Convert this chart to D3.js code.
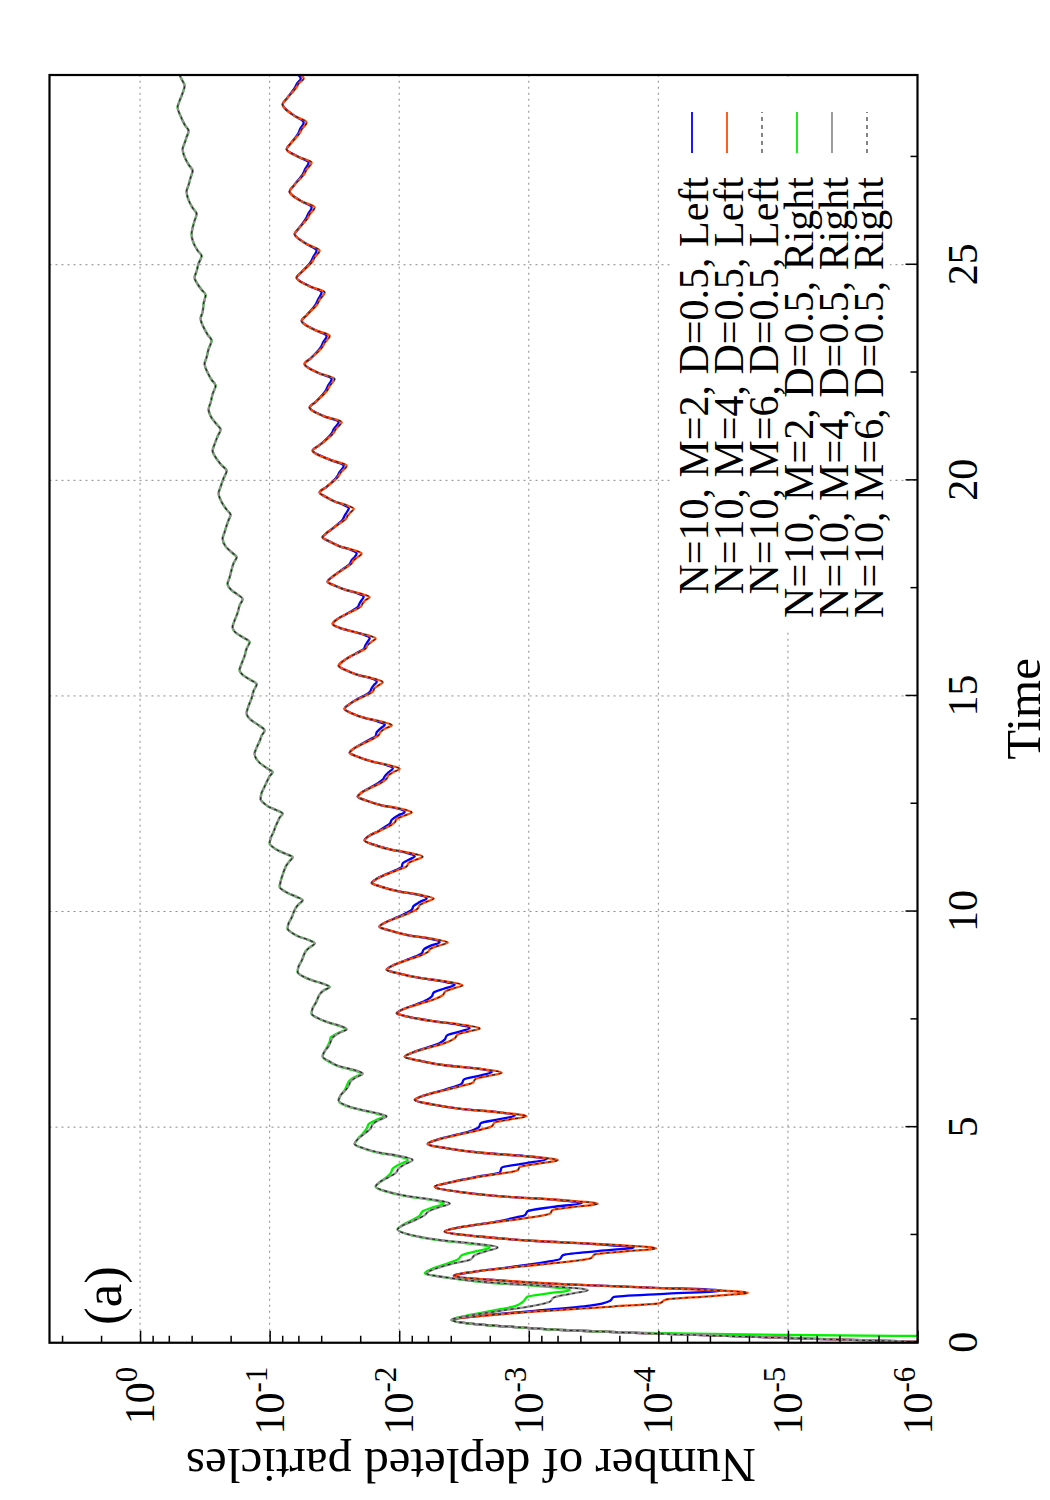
<!DOCTYPE html>
<html>
<head>
<meta charset="utf-8">
<script src="https://cdn.jsdelivr.net/npm/d3@7"></script>
<style>
  body { margin: 0; background: #fff; }
  text { font-family: "Liberation Serif", "Times New Roman", serif; fill: #000; }
</style>
</head>
<body>
<div id="chart"></div>
<script>
//##### depleted particles vs time (figure is drawn landscape, then turned) #####

// [time, number of depleted particles]
var leftM2 = [
  [0.00, 4e-7], [0.03, 1.2e-6], [0.11, 1e-5], [0.21, 1e-4], [0.29, 5e-4], [0.36, 1.2e-3], [0.44, 2.7e-3], [0.53, 3.94e-3],
  [0.62, 2.48e-3], [0.74, 8.99e-4], [0.86, 3.38e-4], [0.97, 2.37e-4], [1.06, 2.21e-4], [1.14, 8.45e-5], [1.21, 3.18e-5], [1.28, 1.16e-4], [1.34, 4.04e-4], [1.45, 1.77e-3], [1.55, 3.79e-3],
  [1.65, 2.61e-3], [1.77, 1.28e-3], [1.87, 7.52e-4], [1.94, 5.76e-4], [2.03, 5.46e-4], [2.12, 3.09e-4], [2.21, 1.55e-4], [2.28, 2.83e-4], [2.36, 8.83e-4], [2.47, 2.52e-3], [2.58, 4.46e-3],
  [2.68, 3.35e-3], [2.80, 1.86e-3], [2.90, 1.28e-3], [2.96, 1.07e-3], [3.05, 1.02e-3], [3.15, 6.53e-4], [3.24, 3.90e-4], [3.31, 5.97e-4], [3.39, 1.53e-3], [3.50, 3.47e-3], [3.62, 5.32e-3],
  [3.73, 3.86e-3], [3.85, 2.48e-3], [3.95, 1.67e-3], [4.06, 1.62e-3], [4.16, 1.07e-3], [4.26, 7.26e-4], [4.33, 1.07e-3], [4.40, 2.23e-3], [4.51, 4.30e-3], [4.61, 6.03e-3],
  [4.71, 5.05e-3], [4.83, 3.53e-3], [4.92, 2.75e-3], [5.00, 2.43e-3], [5.09, 2.35e-3], [5.18, 1.71e-3], [5.27, 1.28e-3], [5.35, 1.75e-3], [5.42, 3.24e-3], [5.53, 5.61e-3], [5.63, 7.59e-3],
  [5.73, 6.47e-3], [5.85, 4.70e-3], [5.94, 3.73e-3], [6.01, 3.29e-3], [6.10, 3.18e-3], [6.19, 2.43e-3], [6.28, 1.93e-3], [6.36, 2.52e-3], [6.43, 4.30e-3], [6.54, 6.95e-3], [6.63, 9.07e-3],
  [6.73, 7.87e-3], [6.85, 6.03e-3], [6.94, 4.95e-3], [7.03, 4.46e-3], [7.12, 4.30e-3], [7.21, 3.47e-3], [7.30, 2.86e-3], [7.38, 3.53e-3], [7.46, 5.51e-3], [7.56, 8.45e-3], [7.64, 1.045e-2],
  [7.74, 9.23e-3], [7.86, 7.20e-3], [7.95, 6.14e-3], [8.03, 5.61e-3], [8.12, 5.42e-3], [8.21, 4.53e-3], [8.30, 3.73e-3], [8.38, 4.62e-3], [8.46, 6.95e-3], [8.57, 1.03e-2], [8.65, 1.25e-2],
  [8.75, 1.12e-2], [8.87, 8.91e-3], [8.96, 7.46e-3], [9.03, 6.70e-3], [9.12, 6.47e-3], [9.21, 5.71e-3], [9.29, 4.87e-3], [9.37, 5.81e-3], [9.45, 8.45e-3], [9.56, 1.18e-2], [9.65, 1.42e-2],
  [9.75, 1.27e-2], [9.87, 1.03e-2], [9.96, 8.91e-3], [10.04, 8.01e-3], [10.13, 7.73e-3], [10.22, 6.95e-3], [10.31, 6.14e-3], [10.39, 7.20e-3], [10.47, 1.01e-2], [10.58, 1.39e-2], [10.66, 1.63e-2],
  [10.76, 1.49e-2], [10.88, 1.23e-2], [10.96, 1.06e-2], [11.03, 9.57e-3], [11.12, 9.40e-3], [11.20, 8.45e-3], [11.28, 7.59e-3], [11.36, 8.75e-3], [11.44, 1.18e-2], [11.55, 1.57e-2], [11.65, 1.85e-2],
  [11.75, 1.72e-2], [11.87, 1.44e-2], [11.96, 1.29e-2], [12.04, 1.18e-2], [12.13, 1.14e-2], [12.22, 1.03e-2], [12.31, 9.07e-3], [12.39, 1.03e-2], [12.47, 1.39e-2], [12.58, 1.82e-2], [12.66, 2.09e-2],
  [12.76, 1.95e-2], [12.88, 1.66e-2], [12.97, 1.47e-2], [13.06, 1.34e-2], [13.14, 1.29e-2], [13.23, 1.21e-2], [13.32, 1.12e-2], [13.40, 1.27e-2], [13.48, 1.63e-2], [13.59, 2.09e-2], [13.68, 2.41e-2],
  [13.78, 2.24e-2], [13.90, 1.91e-2], [13.99, 1.69e-2], [14.07, 1.52e-2], [14.16, 1.49e-2], [14.25, 1.39e-2], [14.33, 1.29e-2], [14.41, 1.47e-2], [14.49, 1.85e-2], [14.60, 2.33e-2], [14.70, 2.64e-2],
  [14.80, 2.45e-2], [14.92, 2.13e-2], [15.01, 1.85e-2], [15.09, 1.69e-2], [15.18, 1.63e-2], [15.25, 1.57e-2], [15.33, 1.49e-2], [15.41, 1.66e-2], [15.49, 2.09e-2], [15.60, 2.59e-2], [15.70, 2.93e-2],
  [15.80, 2.73e-2], [15.92, 2.37e-2], [16.02, 2.06e-2], [16.09, 1.88e-2], [16.18, 1.82e-2], [16.26, 1.75e-2], [16.34, 1.69e-2], [16.42, 1.88e-2], [16.50, 2.33e-2], [16.58, 2.88e-2], [16.67, 3.26e-2],
  [16.77, 3.04e-2], [16.89, 2.59e-2], [16.98, 2.29e-2], [17.06, 2.09e-2], [17.15, 2.02e-2], [17.22, 1.95e-2], [17.30, 1.88e-2], [17.38, 2.09e-2], [17.46, 2.59e-2], [17.56, 3.15e-2], [17.65, 3.57e-2],
  [17.75, 3.32e-2], [17.87, 2.93e-2], [17.97, 2.64e-2], [18.06, 2.41e-2], [18.15, 2.33e-2], [18.22, 2.21e-2], [18.31, 2.13e-2], [18.39, 2.37e-2], [18.47, 2.88e-2], [18.58, 3.44e-2], [18.68, 3.90e-2],
  [18.78, 3.63e-2], [18.90, 3.21e-2], [19.00, 2.93e-2], [19.09, 2.73e-2], [19.18, 2.64e-2], [19.26, 2.54e-2], [19.35, 2.45e-2], [19.43, 2.69e-2], [19.51, 3.15e-2], [19.62, 3.70e-2], [19.72, 4.11e-2],
  [19.85, 3.63e-2], [20.10, 3.0e-2], [20.18, 2.9e-2], [20.34, 2.68e-2], [20.48, 3.44e-2], [20.69, 4.66e-2],
  [20.82, 4.11e-2], [21.10, 3.3e-2], [21.19, 3.2e-2], [21.35, 2.93e-2], [21.49, 3.83e-2], [21.69, 4.91e-2],
  [21.82, 4.41e-2], [22.10, 3.66e-2], [22.19, 3.55e-2], [22.35, 3.32e-2], [22.49, 4.19e-2], [22.70, 5.37e-2],
  [22.83, 4.82e-2], [23.10, 4.0e-2], [23.19, 3.88e-2], [23.35, 3.63e-2], [23.49, 4.49e-2], [23.70, 5.66e-2],
  [23.83, 5.18e-2], [24.10, 4.37e-2], [24.19, 4.24e-2], [24.36, 3.97e-2], [24.50, 4.91e-2], [24.70, 6.19e-2],
  [24.83, 5.66e-2], [25.08, 4.78e-2], [25.17, 4.63e-2], [25.33, 4.34e-2], [25.48, 5.18e-2], [25.71, 6.41e-2],
  [25.84, 5.97e-2], [26.08, 5.22e-2], [26.17, 5.06e-2], [26.33, 4.74e-2], [26.47, 5.66e-2], [26.70, 7.01e-2],
  [26.83, 6.53e-2], [27.12, 5.5e-2], [27.21, 5.34e-2], [27.37, 5.0e-2], [27.50, 5.97e-2], [27.68, 7.39e-2],
  [27.81, 6.89e-2], [28.05, 6.0e-2], [28.14, 5.83e-2], [28.30, 5.46e-2], [28.45, 6.41e-2], [28.72, 7.94e-2],
  [28.85, 7.39e-2], [29.12, 6.35e-2], [29.20, 6.15e-2], [29.32, 5.75e-2], [29.45, 6.3e-2]
];

var leftM4 = [
  [0.00, 4e-7], [0.03, 1.2e-6], [0.11, 1e-5], [0.21, 1e-4], [0.29, 5e-4], [0.36, 1.2e-3], [0.44, 2.7e-3], [0.53, 3.94e-3],
  [0.62, 2.39e-3], [0.74, 7.26e-4], [0.84, 2.24e-4], [0.92, 9.7e-5], [1.00, 8.75e-5], [1.08, 3.86e-5], [1.16, 2.04e-5], [1.25, 6.8e-5], [1.34, 4.04e-4], [1.45, 1.77e-3], [1.55, 3.79e-3],
  [1.65, 2.61e-3], [1.77, 1.13e-3], [1.87, 5.37e-4], [1.96, 3.32e-4], [2.05, 3.09e-4], [2.12, 1.81e-4], [2.19, 1.04e-4], [2.28, 2.50e-4], [2.36, 8.83e-4], [2.47, 2.52e-3], [2.58, 4.46e-3],
  [2.68, 3.35e-3], [2.80, 1.75e-3], [2.90, 1.00e-3], [2.99, 6.89e-4], [3.08, 6.53e-4], [3.15, 4.50e-4], [3.22, 2.93e-4], [3.31, 5.66e-4], [3.39, 1.53e-3], [3.50, 3.47e-3], [3.62, 5.32e-3],
  [3.73, 3.86e-3], [3.85, 2.39e-3], [4.00, 1.22e-3], [4.08, 1.17e-3], [4.16, 8.22e-4], [4.235, 5.97e-4], [4.32, 1.02e-3], [4.40, 2.23e-3], [4.51, 4.30e-3], [4.61, 6.03e-3],
  [4.71, 5.05e-3], [4.83, 3.41e-3], [4.93, 2.43e-3], [5.02, 1.93e-3], [5.11, 1.83e-3], [5.18, 1.40e-3], [5.25, 1.04e-3], [5.34, 1.64e-3], [5.42, 3.24e-3], [5.53, 5.61e-3], [5.63, 7.59e-3],
  [5.73, 6.47e-3], [5.85, 4.53e-3], [5.95, 3.35e-3], [6.03, 2.71e-3], [6.12, 2.57e-3], [6.19, 2.04e-3], [6.26, 1.62e-3], [6.35, 2.39e-3], [6.43, 4.30e-3], [6.54, 6.95e-3], [6.63, 9.07e-3],
  [6.73, 7.87e-3], [6.85, 5.81e-3], [6.95, 4.46e-3], [7.06, 3.73e-3], [7.15, 3.53e-3], [7.22, 2.90e-3], [7.29, 2.39e-3], [7.38, 3.35e-3], [7.46, 5.51e-3], [7.56, 8.45e-3], [7.64, 1.045e-2],
  [7.74, 9.23e-3], [7.86, 6.95e-3], [7.96, 5.42e-3], [8.06, 4.62e-3], [8.15, 4.38e-3], [8.22, 3.79e-3], [8.29, 3.24e-3], [8.38, 4.38e-3], [8.46, 6.95e-3], [8.57, 1.03e-2], [8.65, 1.25e-2],
  [8.75, 1.12e-2], [8.87, 8.75e-3], [8.97, 6.95e-3], [9.06, 6.03e-3], [9.14, 5.71e-3], [9.21, 4.95e-3], [9.28, 4.22e-3], [9.37, 5.61e-3], [9.45, 8.45e-3], [9.56, 1.18e-2], [9.65, 1.42e-2],
  [9.75, 1.27e-2], [9.87, 1.01e-2], [9.97, 8.30e-3], [10.07, 7.20e-3], [10.15, 6.95e-3], [10.23, 6.14e-3], [10.30, 5.42e-3], [10.39, 6.95e-3], [10.47, 1.01e-2], [10.58, 1.39e-2], [10.66, 1.63e-2],
  [10.76, 1.49e-2], [10.88, 1.21e-2], [10.98, 9.91e-3], [11.05, 8.75e-3], [11.13, 8.45e-3], [11.20, 7.46e-3], [11.27, 6.59e-3], [11.36, 8.30e-3], [11.44, 1.18e-2], [11.55, 1.57e-2], [11.65, 1.85e-2],
  [11.75, 1.72e-2], [11.87, 1.42e-2], [11.97, 1.21e-2], [12.07, 1.08e-2], [12.15, 1.045e-2], [12.22, 9.23e-3], [12.30, 8.01e-3], [12.39, 9.91e-3], [12.47, 1.39e-2], [12.58, 1.82e-2], [12.66, 2.09e-2],
  [12.76, 1.95e-2], [12.88, 1.63e-2], [12.98, 1.39e-2], [13.08, 1.25e-2], [13.16, 1.21e-2], [13.24, 1.10e-2], [13.31, 9.91e-3], [13.40, 1.23e-2], [13.48, 1.63e-2], [13.59, 2.09e-2], [13.68, 2.41e-2],
  [13.78, 2.24e-2], [13.90, 1.88e-2], [14.00, 1.60e-2], [14.09, 1.44e-2], [14.17, 1.39e-2], [14.25, 1.27e-2], [14.32, 1.14e-2], [14.41, 1.39e-2], [14.49, 1.85e-2], [14.60, 2.33e-2], [14.70, 2.64e-2],
  [14.80, 2.45e-2], [14.92, 2.09e-2], [15.02, 1.78e-2], [15.10, 1.60e-2], [15.18, 1.55e-2], [15.25, 1.44e-2], [15.32, 1.34e-2], [15.41, 1.60e-2], [15.49, 2.09e-2], [15.60, 2.59e-2], [15.70, 2.93e-2],
  [15.80, 2.73e-2], [15.92, 2.37e-2], [16.02, 2.02e-2], [16.10, 1.82e-2], [16.18, 1.75e-2], [16.26, 1.63e-2], [16.33, 1.52e-2], [16.42, 1.82e-2], [16.50, 2.33e-2], [16.58, 2.88e-2], [16.67, 3.26e-2],
  [16.77, 3.04e-2], [16.89, 2.59e-2], [16.98, 2.24e-2], [17.07, 1.98e-2], [17.15, 1.91e-2], [17.22, 1.82e-2], [17.29, 1.69e-2], [17.38, 2.02e-2], [17.46, 2.59e-2], [17.56, 3.15e-2], [17.65, 3.57e-2],
  [17.75, 3.32e-2], [17.87, 2.93e-2], [17.97, 2.59e-2], [18.07, 2.33e-2], [18.15, 2.24e-2], [18.22, 2.09e-2], [18.30, 1.95e-2], [18.39, 2.29e-2], [18.47, 2.88e-2], [18.58, 3.44e-2], [18.68, 3.90e-2],
  [18.78, 3.63e-2], [18.90, 3.21e-2], [19.00, 2.88e-2], [19.10, 2.59e-2], [19.18, 2.50e-2], [19.26, 2.37e-2], [19.34, 2.24e-2], [19.43, 2.59e-2], [19.51, 3.15e-2], [19.62, 3.70e-2], [19.72, 4.11e-2],
  [19.85, 3.63e-2], [20.10, 2.93e-2], [20.18, 2.83e-2], [20.34, 2.54e-2], [20.48, 3.44e-2], [20.69, 4.66e-2],
  [20.82, 4.11e-2], [21.10, 3.21e-2], [21.19, 3.09e-2], [21.35, 2.78e-2], [21.49, 3.83e-2], [21.69, 4.91e-2],
  [21.82, 4.41e-2], [22.10, 3.57e-2], [22.19, 3.44e-2], [22.35, 3.15e-2], [22.49, 4.19e-2], [22.70, 5.37e-2],
  [22.83, 4.82e-2], [23.10, 3.90e-2], [23.19, 3.76e-2], [23.35, 3.44e-2], [23.49, 4.49e-2], [23.70, 5.66e-2],
  [23.83, 5.18e-2], [24.10, 4.26e-2], [24.19, 4.11e-2], [24.36, 3.76e-2], [24.50, 4.91e-2], [24.70, 6.19e-2],
  [24.83, 5.66e-2], [25.08, 4.66e-2], [25.17, 4.49e-2], [25.33, 4.11e-2], [25.48, 5.18e-2], [25.71, 6.41e-2],
  [25.84, 5.97e-2], [26.08, 5.09e-2], [26.17, 4.91e-2], [26.33, 4.49e-2], [26.47, 5.66e-2], [26.70, 7.01e-2],
  [26.83, 6.53e-2], [27.12, 5.37e-2], [27.21, 5.18e-2], [27.37, 4.74e-2], [27.50, 5.97e-2], [27.68, 7.39e-2],
  [27.81, 6.89e-2], [28.05, 5.86e-2], [28.14, 5.66e-2], [28.30, 5.18e-2], [28.45, 6.41e-2], [28.72, 7.94e-2],
  [28.85, 7.39e-2], [29.12, 6.19e-2], [29.20, 5.97e-2], [29.32, 5.46e-2], [29.45, 6.08e-2]
];

// the M=6 left curve sits on top of the M=4 one
var leftM6 = leftM4;

var rightM4 = [
  [0.00, 4e-7], [0.03, 1.2e-6], [0.11, 1e-5], [0.21, 1e-4], [0.29, 5e-4], [0.36, 1.2e-3], [0.44, 2.7e-3], [0.53, 3.94e-3],
  [0.62, 2.96e-3], [0.74, 1.67e-3], [0.85, 9.48e-4], [0.95, 6.89e-4], [1.05, 6.41e-4], [1.14, 4.66e-4], [1.22, 3.50e-4], [1.31, 6.76e-4], [1.39, 1.80e-3], [1.50, 4.00e-3], [1.61, 6.14e-3],
  [1.71, 5.32e-3], [1.83, 3.94e-3], [1.93, 2.81e-3], [2.03, 2.61e-3], [2.12, 2.15e-3], [2.21, 1.74e-3], [2.30, 2.61e-3], [2.38, 4.78e-3], [2.49, 7.87e-3], [2.63, 1.03e-2],
  [2.73, 9.23e-3], [2.85, 7.46e-3], [2.96, 6.35e-3], [3.05, 5.92e-3], [3.14, 4.95e-3], [3.23, 4.07e-3], [3.32, 5.51e-3], [3.40, 8.60e-3], [3.51, 1.25e-2], [3.62, 1.52e-2],
  [3.72, 1.42e-2], [3.84, 1.21e-2], [3.94, 1.06e-2], [4.04, 1.01e-2], [4.14, 9.07e-3], [4.24, 7.87e-3], [4.33, 9.91e-3], [4.41, 1.42e-2], [4.51, 1.88e-2], [4.61, 2.21e-2],
  [4.72, 2.09e-2], [4.85, 1.85e-2], [4.97, 1.66e-2], [5.07, 1.60e-2], [5.16, 1.44e-2], [5.25, 1.25e-2], [5.33, 1.52e-2], [5.41, 2.02e-2], [5.50, 2.54e-2], [5.62, 2.93e-2],
  [5.74, 2.83e-2], [5.86, 2.59e-2], [5.96, 2.45e-2], [6.06, 2.37e-2], [6.15, 2.17e-2], [6.24, 1.91e-2], [6.33, 2.24e-2], [6.41, 2.88e-2], [6.52, 3.44e-2], [6.64, 3.90e-2],
  [6.76, 3.76e-2], [6.88, 3.50e-2], [6.98, 3.38e-2], [7.08, 3.26e-2], [7.18, 2.93e-2], [7.27, 2.54e-2], [7.36, 2.93e-2], [7.44, 3.63e-2], [7.53, 4.26e-2], [7.63, 4.74e-2],
  [7.76, 4.66e-2], [7.88, 4.41e-2], [7.98, 4.26e-2], [8.08, 4.11e-2], [8.17, 3.83e-2], [8.25, 3.44e-2], [8.33, 3.90e-2], [8.41, 4.74e-2], [8.50, 5.56e-2], [8.60, 6.08e-2],
  [8.73, 5.97e-2], [8.86, 5.66e-2], [8.98, 5.46e-2], [9.08, 5.27e-2], [9.17, 4.91e-2], [9.26, 4.49e-2], [9.34, 5.00e-2], [9.42, 5.97e-2], [9.51, 6.76e-2], [9.60, 7.26e-2],
  [9.73, 7.13e-2], [9.86, 6.76e-2], [9.98, 6.53e-2], [10.08, 6.30e-2], [10.17, 5.97e-2], [10.26, 5.56e-2], [10.34, 6.19e-2], [10.42, 7.13e-2], [10.50, 7.94e-2], [10.57, 8.37e-2],
  [10.70, 8.22e-2], [10.85, 7.94e-2], [10.98, 7.66e-2], [11.08, 7.39e-2], [11.17, 7.01e-2], [11.26, 6.64e-2], [11.34, 7.53e-2], [11.42, 8.67e-2], [11.50, 9.48e-2], [11.57, 0.100],
  [11.70, 9.82e-2], [11.85, 9.31e-2], [11.98, 8.99e-2], [12.08, 8.67e-2], [12.18, 8.37e-2], [12.27, 7.94e-2], [12.35, 8.83e-2], [12.43, 0.1018], [12.52, 0.1113], [12.60, 0.1174],
  [12.75, 0.1153], [12.90, 0.1093], [13.05, 0.1036], [13.14, 0.1000], [13.23, 9.48e-2], [13.33, 0.1055], [13.45, 0.1195], [13.66, 0.1306],
  [13.80, 0.1260], [13.95, 0.1195], [14.08, 0.1153], [14.20, 0.1093], [14.32, 0.1216], [14.45, 0.1402], [14.60, 0.1505],
  [14.77, 0.1453], [14.95, 0.1377], [15.12, 0.1329], [15.27, 0.1260], [15.37, 0.1402], [15.47, 0.1588], [15.60, 0.1705],
  [15.75, 0.1645], [15.93, 0.1560], [16.10, 0.1505], [16.25, 0.1427], [16.35, 0.1588], [16.45, 0.1798], [16.60, 0.1931],
  [16.75, 0.1863], [16.93, 0.1766], [17.10, 0.1705], [17.25, 0.1616], [17.35, 0.1766], [17.45, 0.1965], [17.60, 0.2110],
  [17.75, 0.2036], [17.93, 0.1965], [18.08, 0.1897], [18.22, 0.1798], [18.33, 0.1965], [18.47, 0.2187], [18.65, 0.2306],
  [18.80, 0.2226], [18.95, 0.2148], [19.08, 0.2073], [19.20, 0.2001], [19.32, 0.2148], [19.50, 0.2348], [19.70, 0.2476],
  [19.85, 0.2390], [20.05, 0.2266], [20.22, 0.2148], [20.35, 0.2348], [20.50, 0.2566], [20.69, 0.2755],
  [20.84, 0.2659], [21.02, 0.2521], [21.18, 0.2390], [21.30, 0.2566], [21.45, 0.2805], [21.65, 0.2958],
  [21.80, 0.2855], [22.00, 0.2755], [22.20, 0.2612], [22.33, 0.2805], [22.50, 0.3012], [22.70, 0.3176],
  [22.85, 0.3066], [23.05, 0.2958], [23.24, 0.2805], [23.38, 0.3012], [23.55, 0.3233], [23.75, 0.3410],
  [23.90, 0.3291], [24.10, 0.3233], [24.30, 0.3120], [24.42, 0.3350], [24.55, 0.3597], [24.70, 0.3795],
  [24.85, 0.3662], [25.03, 0.3534], [25.20, 0.3350], [25.33, 0.3597], [25.50, 0.3862], [25.70, 0.4003],
  [25.85, 0.3932], [26.02, 0.3795], [26.18, 0.3662], [26.32, 0.3932], [26.50, 0.4221], [26.70, 0.4375],
  [26.85, 0.4221], [27.02, 0.4074], [27.18, 0.3932], [27.32, 0.4221], [27.50, 0.4533], [27.68, 0.4696],
  [27.82, 0.4533], [27.96, 0.4375], [28.10, 0.4221], [28.25, 0.4533], [28.45, 0.4866], [28.65, 0.5133],
  [28.80, 0.4955], [28.98, 0.4696], [29.15, 0.4533], [29.30, 0.4780], [29.45, 0.5043]
];

// M=2 right differs from M=4 right only during the first periods
var rightM2Early = [
  [0.00, 1e-9], [0.14, 1e-7], [0.16, 1.5e-6], [0.18, 1e-5], [0.22, 1e-4], [0.29, 5e-4], [0.36, 1.25e-3], [0.44, 2.75e-3], [0.53, 3.94e-3],
  [0.62, 3.12e-3], [0.74, 1.93e-3], [0.85, 1.28e-3], [0.95, 1.11e-3], [1.07, 1.02e-3], [1.15, 6.89e-4], [1.22, 4.82e-4], [1.31, 8.22e-4], [1.39, 2.00e-3], [1.50, 4.07e-3], [1.61, 6.35e-3],
  [1.71, 5.61e-3], [1.83, 4.30e-3], [1.93, 3.53e-3], [2.03, 3.29e-3], [2.12, 2.57e-3], [2.21, 2.00e-3], [2.30, 2.86e-3], [2.38, 5.04e-3], [2.49, 8.01e-3], [2.63, 1.03e-2],
  [2.73, 9.40e-3], [2.85, 7.87e-3], [2.95, 6.95e-3], [3.05, 6.59e-3], [3.14, 5.51e-3], [3.23, 4.53e-3], [3.32, 5.81e-3], [3.40, 8.91e-3], [3.51, 1.27e-2], [3.62, 1.52e-2],
  [3.72, 1.42e-2], [3.84, 1.25e-2], [3.94, 1.16e-2], [4.04, 1.12e-2], [4.14, 9.91e-3], [4.24, 8.60e-3], [4.33, 1.05e-2], [4.41, 1.47e-2], [4.51, 1.91e-2], [4.61, 2.21e-2],
  [4.72, 2.09e-2], [4.85, 1.91e-2], [4.97, 1.78e-2], [5.07, 1.72e-2], [5.16, 1.52e-2], [5.25, 1.32e-2], [5.33, 1.57e-2], [5.41, 2.05e-2], [5.50, 2.59e-2], [5.62, 2.93e-2],
  [5.74, 2.83e-2], [5.86, 2.63e-2], [5.96, 2.54e-2], [6.06, 2.45e-2], [6.15, 2.24e-2], [6.24, 1.98e-2], [6.33, 2.33e-2], [6.41, 2.93e-2], [6.52, 3.50e-2], [6.64, 3.90e-2],
  [6.76, 3.76e-2], [6.88, 3.57e-2], [6.98, 3.44e-2], [7.08, 3.38e-2], [7.18, 2.99e-2], [7.27, 2.59e-2], [7.36, 2.99e-2], [7.44, 3.63e-2], [7.53, 4.26e-2], [7.63, 4.74e-2]
];
var rightM2 = rightM2Early.concat(rightM4.filter(function(d) { return d[0] > 7.7; }));
var rightM6 = rightM4;

var seriesNames = [
  "N=10, M=2, D=0.5, Left",
  "N=10, M=4, D=0.5, Left",
  "N=10, M=6, D=0.5, Left",
  "N=10, M=2, D=0.5, Right",
  "N=10, M=4, D=0.5, Right",
  "N=10, M=6, D=0.5, Right"
];
var timeTicks = [0, 5, 10, 15, 20, 25];
var timeMinorTicks = [2.5, 7.5, 12.5, 17.5, 22.5, 27.5];
var countTicks = [1e-6, 1e-5, 1e-4, 1e-3, 1e-2, 1e-1, 1e0];
var countExponents = ["-6", "-5", "-4", "-3", "-2", "-1", "0"];
var countMinorTicks = [
  2e-6, 4e-6, 6e-6, 8e-6, 2e-5, 4e-5, 6e-5, 8e-5, 2e-4, 4e-4, 6e-4, 8e-4,
  2e-3, 4e-3, 6e-3, 8e-3, 2e-2, 4e-2, 6e-2, 8e-2, 0.2, 0.4, 0.6, 0.8, 2, 4
];

var styles = [
  {color: "#0000ff", width: 2.3, dash: null},
  {color: "#ff4a0a", width: 2.3, dash: null},
  {color: "#222", width: 1.1, dash: "3,3.5"},
  {color: "#00f000", width: 2.3, dash: null},
  {color: "#919191", width: 2.3, dash: null},
  {color: "#222", width: 1.1, dash: "3,3.5"}
];
var allData = [leftM2, leftM4, leftM6, rightM2, rightM4, rightM6];

// landscape frame 1500 x 1050, turned -90 degrees into the 1050 x 1500 page
var W = 1050, H = 1500;
var margin = {left: 157.25, right: 75, top: 49.5, bottom: 132.5};
var pw = H - margin.left - margin.right,
  ph = W - margin.top - margin.bottom;

var svg = d3.select("#chart").append("svg")
  .attr("width", W)
  .attr("height", H);
svg.append("rect").attr("width", W).attr("height", H).attr("fill", "#fff");

var root = svg.append("g").attr("transform", "translate(0," + H + ") rotate(-90)");
var g = root.append("g").attr("transform", "translate(" + margin.left + "," + margin.top + ")");

var x = d3.scaleLinear().domain([0, 29.4]).range([0, pw]);
var y = d3.scaleLog().domain([1e-6, 5]).range([ph, 0]);

g.append("clipPath").attr("id", "clip")
  .append("rect").attr("width", pw).attr("height", ph);

//grid
g.append("g").selectAll("line")
  .data(timeTicks.slice(1))
  .enter().append("line")
  .attr("x1", function(d) { return x(d); })
  .attr("x2", function(d) { return x(d); })
  .attr("y1", 0).attr("y2", ph)
  .attr("stroke", "#8a8a8a").attr("stroke-width", 1).attr("stroke-dasharray", "2,4");
g.append("g").selectAll("line")
  .data(countTicks.slice(1))
  .enter().append("line")
  .attr("x1", 0).attr("x2", pw)
  .attr("y1", function(d) { return y(d); })
  .attr("y2", function(d) { return y(d); })
  .attr("stroke", "#8a8a8a").attr("stroke-width", 1).attr("stroke-dasharray", "2,4");

//curves
var line = d3.line()
  .x(function(d) { return x(d[0]); })
  .y(function(d) { return y(d[1]); })
  .curve(d3.curveMonotoneX);

g.append("g").attr("clip-path", "url(#clip)")
  .selectAll("path")
  .data(allData)
  .enter().append("path")
  .attr("d", line)
  .attr("fill", "none")
  .attr("stroke", function(d, i) { return styles[i].color; })
  .attr("stroke-width", function(d, i) { return styles[i].width; })
  .attr("stroke-dasharray", function(d, i) { return styles[i].dash; })
  .attr("stroke-linejoin", "round");

//legend (opaque box, bottom right of the landscape frame)
var keyX = 1323 - margin.left, keyY0 = 692 - margin.top, keyStep = 35;
g.append("rect")
  .attr("x", 870 - margin.left).attr("y", 672 - margin.top)
  .attr("width", 550).attr("height", 218)
  .attr("fill", "#fff");
var key = g.append("g").selectAll("g")
  .data(seriesNames)
  .enter().append("g")
  .attr("transform", function(d, i) { return "translate(0," + (keyY0 + i * keyStep) + ")"; });
key.append("line")
  .attr("x1", keyX + 24).attr("x2", keyX + 65)
  .attr("y1", 0).attr("y2", 0)
  .attr("stroke", function(d, i) { return i == 2 || i == 5 ? "#777" : styles[i].color; })
  .attr("stroke-width", 1.8)
  .attr("stroke-dasharray", function(d, i) { return styles[i].dash ? "4,4" : null; });
key.append("text")
  .attr("x", keyX).attr("y", 16)
  .attr("text-anchor", "end")
  .style("font-size", "42px")
  .text(function(d) { return d; });

//axes
var xAxis = g.append("g").attr("transform", "translate(0," + ph + ")")
  .call(d3.axisBottom(x).tickValues(timeTicks).tickSize(-12).tickPadding(30).tickFormat(d3.format("d")));
g.append("g").attr("transform", "translate(0," + ph + ")")
  .call(d3.axisBottom(x).tickValues(timeMinorTicks).tickSize(-7).tickFormat(""));
var yAxis = g.append("g")
  .call(d3.axisLeft(y).tickValues(countTicks).tickSize(-12).tickFormat(""));
g.append("g")
  .call(d3.axisLeft(y).tickValues(countMinorTicks).tickSize(-7).tickFormat(""));
g.selectAll(".domain").remove();
g.selectAll(".tick line").attr("stroke", "#000").attr("stroke-width", 1.5);
xAxis.selectAll("text")
  .attr("fill", "#000")
  .style("font-size", "42px")
  .style("font-family", "Liberation Serif");

// power-of-ten labels
var ylab = g.append("g").selectAll("text")
  .data(countTicks)
  .enter().append("text")
  .attr("x", -24)
  .attr("y", function(d) { return y(d) + 14; })
  .attr("text-anchor", "end")
  .style("font-size", "42px");
ylab.append("tspan").text("10");
ylab.append("tspan")
  .attr("dy", -17)
  .style("font-size", "31px")
  .text(function(d, i) { return countExponents[i]; });

//border
g.append("rect")
  .attr("width", pw).attr("height", ph)
  .attr("fill", "none").attr("stroke", "#000").attr("stroke-width", 2.2);

//labels
root.append("text")
  .attr("x", margin.left + pw / 2).attr("y", 1040)
  .attr("text-anchor", "middle")
  .style("font-size", "49px")
  .text("Time");
root.append("text")
  .attr("transform", "translate(51,471) rotate(-90)")
  .attr("text-anchor", "middle")
  .style("font-size", "49px")
  .text("Number of depleted particles");
root.append("text")
  .attr("x", 175).attr("y", 121)
  .style("font-size", "53px")
  .text("(a)");
</script>
</body>
</html>
